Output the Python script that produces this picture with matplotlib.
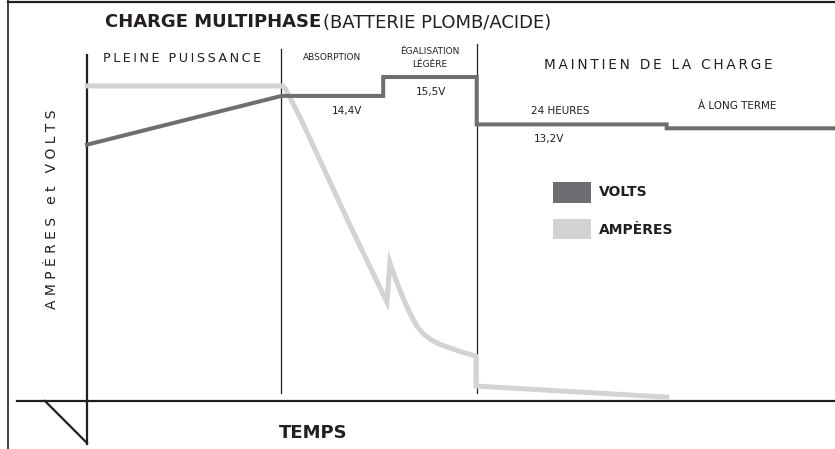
import matplotlib
matplotlib.use("Agg")
import matplotlib.pyplot as plt

# phase boundaries (time units, 0..100 across the chart)
t_absorption = 26.0
t_egalisation = 39.6
t_maintien = 52.1
t_long_terme = 77.5

# volts curve
volts_t = [0, t_absorption, t_egalisation, t_egalisation, t_maintien, t_maintien,
           t_long_terme, t_long_terme, 100]
volts_v = [72.0, 85.7, 85.7, 91.0, 91.0, 77.7, 77.7, 76.6, 76.6]

# amperes curve
amps_t = [0, 26.1, 26.5, 27.2, 28.5, 35.2, 40.1, 40.5, 41.2, 42.2, 43.2, 44.1,
          45.0, 45.9, 47.2, 48.5, 50.2, 52.0, 52.0, 77.5]
amps_v = [88.5, 88.5, 87.8, 85.0, 79.6, 49.2, 27.8, 38.8, 34.6, 29.2, 24.5, 21.0,
          18.8, 17.3, 15.9, 14.9, 13.7, 12.6, 4.2, 1.1]

volt_labels = ["14,4V", "15,5V", "13,2V"]
phase_labels = ["PLEINE PUISSANCE", "ABSORPTION", "ÉGALISATION\nLÉGÈRE",
                "MAINTIEN DE LA CHARGE"]

VOLT_C = "#6d6e71"
AMP_C = "#d1d3d4"
INK = "#231f20"

W, H = 835, 449
fig = plt.figure(figsize=(W / 100, H / 100), dpi=100)

# overlay in pixel units for frame and text
deco = fig.add_axes([0, 0, 1, 1])
deco.set_xlim(0, W)
deco.set_ylim(H, 0)
deco.axis("off")

# chart area: y axis at x=87, time axis at y=401
ax = fig.add_axes([87 / W, (H - 401) / H, 748 / W, 356 / H])
ax.set_xlim(0, 100)
ax.set_ylim(0, 100)
ax.axis("off")

ax.plot(amps_t, amps_v, color=AMP_C, lw=3.6, solid_joinstyle="miter", clip_on=False)
ax.plot(volts_t, volts_v, color=VOLT_C, lw=2.9, solid_joinstyle="miter", clip_on=False)


def spaced(s):
    return "\u2009".join(s)


# frame and axes
deco.plot([8, 8], [0, H], color=INK, lw=1.2)
deco.plot([8, W], [2, 2], color=INK, lw=1.6)
deco.plot([17, W], [401, 401], color=INK, lw=1.6)
deco.plot([87, 87], [55, 444], color=INK, lw=1.6)
deco.plot([45, 87], [401, 443], color=INK, lw=1.6)
deco.plot([281, 281], [49, 393], color=INK, lw=0.9)
deco.plot([477, 477], [44, 393], color=INK, lw=0.9)

# title
deco.text(105, 22, "CHARGE MULTIPHASE", fontsize=13, fontweight="bold",
          color=INK, va="center", ha="left")
deco.text(323, 23, "(BATTERIE PLOMB/ACIDE)", fontsize=13, color=INK,
          va="center", ha="left")

# phase labels
deco.text(182, 58, spaced(phase_labels[0]), fontsize=9.2, color=INK, ha="center", va="center")
deco.text(332, 58, phase_labels[1], fontsize=6.5, color=INK, ha="center", va="center")
deco.text(430, 58, phase_labels[2], fontsize=6.5, color=INK, ha="center", va="center",
          linespacing=1.6)
deco.text(658, 65, spaced(phase_labels[3]), fontsize=9.8, color=INK, ha="center", va="center")

# voltage labels
deco.text(347, 111, volt_labels[0], fontsize=7.5, color=INK, ha="center", va="center")
deco.text(431, 92, volt_labels[1], fontsize=7.5, color=INK, ha="center", va="center")
deco.text(549, 139, volt_labels[2], fontsize=7.5, color=INK, ha="center", va="center")
deco.text(531, 111, "24 HEURES", fontsize=7.5, color=INK, ha="left", va="center")
deco.text(737, 106, "À LONG TERME", fontsize=7.5, color=INK, ha="center", va="center")

# legend
deco.add_patch(plt.Rectangle((553, 182), 38, 21, color=VOLT_C, lw=0))
deco.add_patch(plt.Rectangle((553, 219), 38, 20, color=AMP_C, lw=0))
deco.text(599, 192, "VOLTS", fontsize=10, fontweight="bold", color=INK, va="center")
deco.text(599, 230, "AMPÈRES", fontsize=10, fontweight="bold", color=INK, va="center")

# axis titles
deco.text(52, 209, "A M P È R E S   e t   V O L T S", fontsize=10, color=INK,
          rotation=90, ha="center", va="center")
deco.text(313, 433, "TEMPS", fontsize=13, fontweight="bold", color=INK,
          ha="center", va="center")

fig.savefig("out.png", dpi=100)
